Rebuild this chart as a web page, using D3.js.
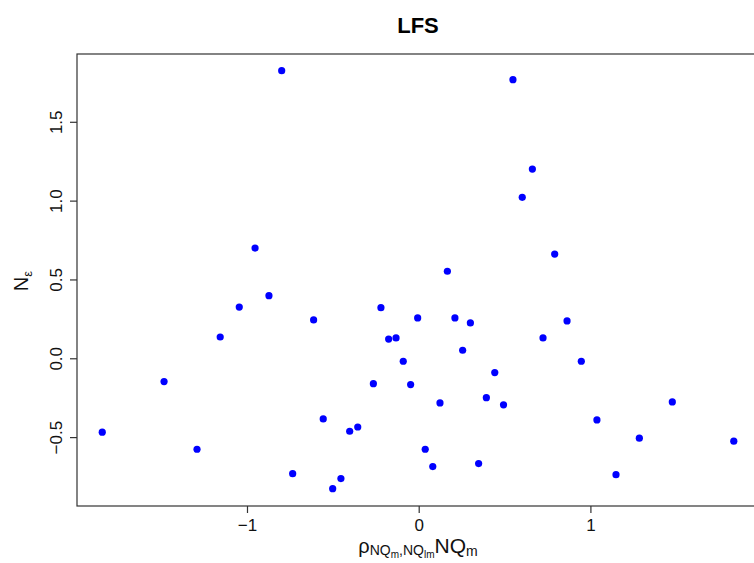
<!DOCTYPE html>
<html><head><meta charset="utf-8">
<script src="https://cdn.jsdelivr.net/npm/d3@7"></script>
<style>html,body{margin:0;padding:0;background:#fff;}svg{display:block;font-family:"Liberation Sans",Arial,sans-serif;}</style>
</head><body>
<script>
const xValues = [-1.843,-1.483,-1.291,-1.156,-1.045,-0.953,-0.872,-0.798,-0.734,-0.612,-0.556,-0.501,-0.453,-0.402,-0.355,-0.264,-0.220,-0.175,-0.132,-0.090,-0.047,-0.006,0.038,0.082,0.124,0.167,0.211,0.256,0.301,0.349,0.394,0.443,0.494,0.549,0.603,0.662,0.724,0.792,0.864,0.947,1.038,1.149,1.285,1.477,1.835];
const yValues = [-0.469,-0.148,-0.577,0.135,0.325,0.699,0.397,1.824,-0.732,0.243,-0.385,-0.827,-0.763,-0.463,-0.436,-0.161,0.321,0.122,0.129,-0.019,-0.167,0.256,-0.577,-0.687,-0.283,0.552,0.256,0.051,0.224,-0.668,-0.250,-0.091,-0.295,1.767,1.021,1.200,0.129,0.661,0.237,-0.019,-0.391,-0.738,-0.507,-0.277,-0.526];
const xTicks = [-1, 0, 1];
const yTicks = [-0.5, 0.0, 0.5, 1.0, 1.5];
const title = "LFS";

const W = 754, H = 563;
const L = 77, T = 54, B = 506, R = 760.4;
const svg = d3.select("body").append("svg").attr("width", W).attr("height", H);

const x = d3.scaleLinear().domain([-1.99, 1.99]).range([L, R]);
const y = d3.scaleLinear().domain([-0.937, 1.930]).range([B, T]);

// frame
svg.append("rect").attr("x", L).attr("y", T).attr("width", R - L).attr("height", B - T)
  .attr("fill", "none").attr("stroke", "#333").attr("stroke-width", 1.2);

// x axis
const fmtX = d => d < 0 ? "\u2212" + Math.abs(d) : String(d);
const xa = svg.append("g").attr("transform", `translate(0,${B})`)
  .call(d3.axisBottom(x).tickValues(xTicks).tickSize(7).tickPadding(6).tickFormat(fmtX));
xa.select(".domain").remove();
xa.selectAll("line").attr("stroke", "#333").attr("stroke-width", 1.2);
xa.selectAll("text").attr("font-size", 17).attr("fill", "#111")
  .attr("font-family", "Liberation Sans, Arial, sans-serif");

// y axis
const fmtY = d => (d < 0 ? "\u2212" : "") + Math.abs(d).toFixed(1);
const ya = svg.append("g").attr("transform", `translate(${L},0)`)
  .call(d3.axisLeft(y).tickValues(yTicks).tickSize(7).tickFormat(fmtY));
ya.select(".domain").remove();
ya.selectAll("line").attr("stroke", "#333").attr("stroke-width", 1.2);
ya.selectAll("text").attr("font-size", 17).attr("fill", "#111")
  .attr("font-family", "Liberation Sans, Arial, sans-serif")
  .attr("x", null).attr("dy", null).attr("text-anchor", "middle")
  .attr("transform", "translate(-15,0) rotate(-90)");

// points
svg.append("g").selectAll("circle").data(xValues.map((v, i) => [v, yValues[i]]))
  .join("circle").attr("cx", d => x(d[0])).attr("cy", d => y(d[1]))
  .attr("r", 3.6).attr("fill", "#0000ff");

// title
svg.append("text").attr("x", 418).attr("y", 33).attr("text-anchor", "middle")
  .attr("font-size", 22).attr("font-weight", "bold").attr("fill", "#000").text(title);

// x label
const xl = svg.append("text").attr("x", 418).attr("y", 553).attr("text-anchor", "middle").attr("fill", "#111");
xl.append("tspan").attr("font-size", 20).text("\u03C1");
xl.append("tspan").attr("font-size", 14).attr("dy", 2).text("NQ");
xl.append("tspan").attr("font-size", 10).attr("dy", 2.5).text("m");
xl.append("tspan").attr("font-size", 14).attr("dy", -2.5).text(",NQ");
xl.append("tspan").attr("font-size", 10).attr("dy", 2.5).text("lm");
xl.append("tspan").attr("font-size", 21).attr("dy", -4.5).text("NQ");
xl.append("tspan").attr("font-size", 14).attr("dy", 3).text("m");

// y label
const yl = svg.append("text").attr("transform", "translate(28,281) rotate(-90)")
  .attr("text-anchor", "middle").attr("fill", "#111");
yl.append("tspan").attr("font-size", 20).text("N");
yl.append("tspan").attr("font-size", 13).attr("dy", 4).text("\u03B5");
</script>
</body></html>
